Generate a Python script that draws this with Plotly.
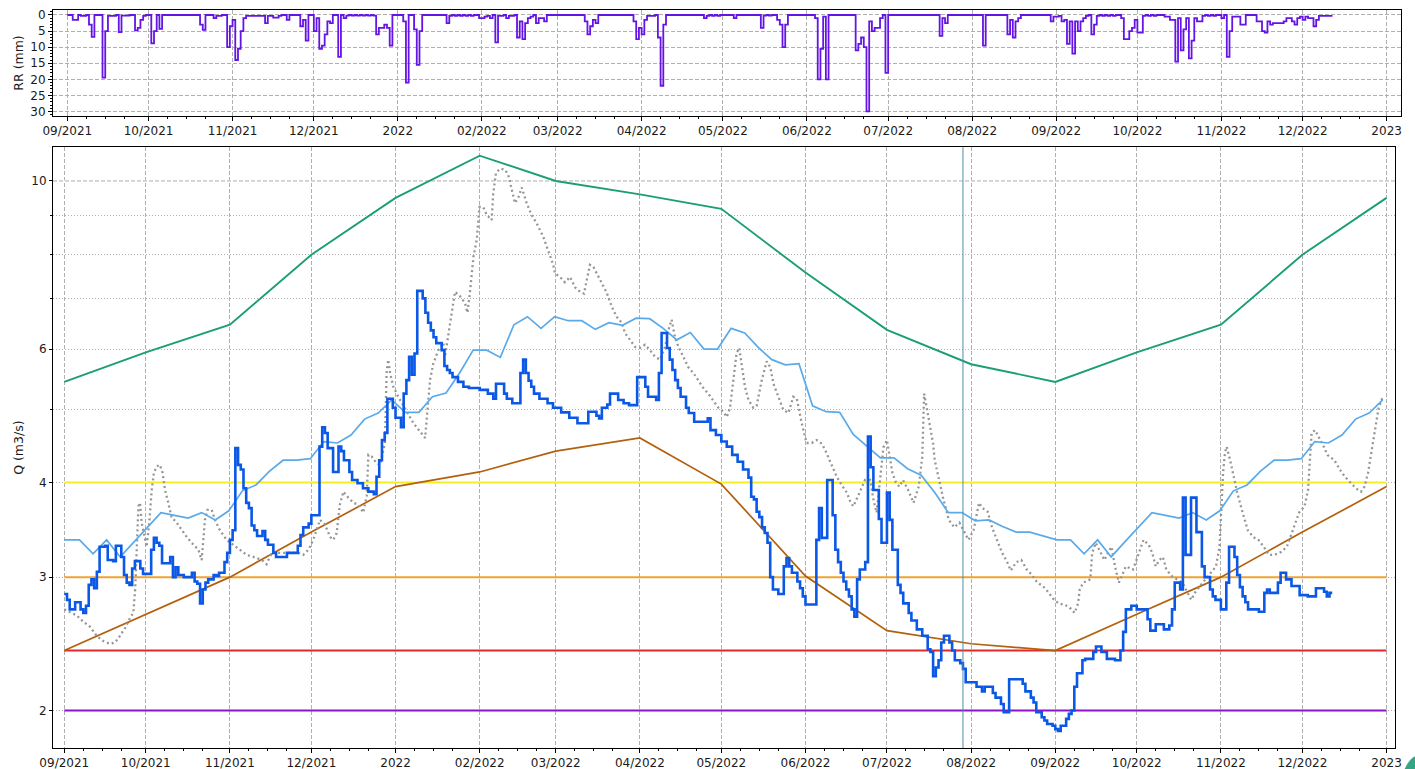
import pandas as pd
import plotly.graph_objects as go

START = pd.Timestamp("2021-09-01")

# ---------------- data ----------------
month_ticks = ["2021-09-01", "2021-10-01", "2021-11-01", "2021-12-01", "2022-01-01",
               "2022-02-01", "2022-03-01", "2022-04-01", "2022-05-01", "2022-06-01",
               "2022-07-01", "2022-08-01", "2022-09-01", "2022-10-01", "2022-11-01",
               "2022-12-01", "2023-01-01"]
month_labels = ["09/2021", "10/2021", "11/2021", "12/2021", "2022", "02/2022", "03/2022",
                "04/2022", "05/2022", "06/2022", "07/2022", "08/2022", "09/2022", "10/2022",
                "11/2022", "12/2022", "2023"]

# daily rainfall RR (mm): (day since 2021-09-01, mm); other days = 0
rr_events = [(2, 1.5), (3, 1.5), (5, 0.3), (6, 0.3), (8, 3), (9, 6.8), (13, 19.5), (14, 5),
             (15, 0.3), (16, 0.3), (17, 0.3), (19, 5.3), (20, 0.2), (21, 0.2), (22, 0.2),
             (25, 4.8), (26, 4.0), (27, 1.5), (28, 0.3), (31, 8.8), (32, 5.0), (34, 4.3),
             (49, 3.0), (50, 4.6), (54, 1.0), (55, 0.3), (56, 0.3), (59, 10), (60, 3.5),
             (61, 1.5), (62, 14), (63, 10.5), (64, 5), (65, 1), (66, 0.3), (67, 0.3),
             (68, 0.3), (69, 0.3), (70, 0.3), (71, 0.3), (72, 0.3), (73, 2.5), (74, 0.3),
             (75, 0.3), (76, 0.8), (77, 0.8), (78, 0.3), (81, 1.5), (86, 3.5), (87, 1.5),
             (88, 8), (91, 5), (92, 1), (93, 10.5), (94, 9.5), (95, 6), (96, 2), (97, 2.5),
             (100, 13), (102, 1), (103, 0.2), (105, 0.2), (107, 0.2), (109, 0.2),
             (111, 0.2), (113, 0.2), (114, 6), (115, 4), (116, 4), (117, 3), (118, 4),
             (119, 9.5), (124, 2), (125, 21), (128, 4.5), (129, 15.5), (130, 5),
             (140, 2.5), (141, 0.3), (143, 0.3), (145, 0.3), (147, 0.3), (149, 0.3),
             (152, 1), (153, 1), (154, 0.5), (155, 0.3), (156, 1), (158, 8.5), (159, 0.3),
             (160, 0.3), (162, 1), (163, 0.3), (164, 0.3), (166, 7), (167, 2), (168, 7.5),
             (169, 2.5), (170, 1), (171, 0.5), (173, 2.5), (174, 1), (175, 1), (176, 2),
             (191, 2), (192, 6), (193, 3.5), (194, 1.5), (195, 2.5), (209, 2), (210, 7.5),
             (211, 4), (212, 6), (213, 1.5), (214, 0.3), (215, 0.3), (216, 0.3), (218, 7),
             (219, 22), (220, 3), (235, 1), (236, 0.3), (238, 0.3), (240, 0.3), (246, 1),
             (256, 4), (257, 0.2), (259, 0.2), (262, 1.5), (263, 3), (264, 10), (265, 3),
             (276, 1), (277, 20), (278, 10.5), (279, 0.5), (280, 20), (291, 11), (292, 9),
             (293, 7), (294, 10), (295, 30), (296, 2), (297, 5), (298, 4), (299, 4),
             (300, 1), (302, 18), (322, 6.5), (323, 1), (324, 2.5), (338, 9.5), (347, 6),
             (348, 1.5), (349, 7), (350, 2), (351, 1), (363, 2), (364, 0.5), (365, 0.5),
             (366, 0.3), (367, 2), (368, 1.5), (369, 9), (370, 2), (371, 12), (372, 2),
             (373, 5), (374, 2), (375, 1), (376, 0.3), (378, 6), (379, 3), (380, 0.3),
             (382, 0.3), (384, 0.3), (386, 0.3), (389, 1), (390, 7.5), (391, 7.5), (392, 5),
             (393, 4), (394, 1.5), (395, 5.5), (396, 5.5), (397, 0.3), (399, 0.3),
             (401, 0.3), (405, 0.5), (406, 0.5), (407, 1.5), (408, 1.5), (409, 14.5),
             (410, 1), (411, 11), (412, 4.5), (413, 1), (414, 13.5), (415, 8), (416, 1),
             (417, 2), (418, 2), (419, 0.3), (421, 0.3), (423, 0.3), (426, 1), (428, 13),
             (429, 5), (430, 0.5), (431, 0.5), (432, 0.5), (433, 3), (434, 3), (439, 2),
             (440, 2), (441, 5), (442, 5.5), (443, 2), (444, 3), (445, 2.5), (446, 2.5),
             (447, 2.5), (448, 2.5), (449, 2), (450, 1), (451, 1), (452, 2), (453, 3),
             (454, 1), (455, 0.5), (456, 1.5), (457, 0.5), (458, 1), (459, 1), (460, 3.5),
             (461, 1.5), (462, 0.3), (463, 0.3), (464, 0.3), (465, 0.3), (466, 0.3),
             (467, 0.3)]
rr_last_day = 467

# observed discharge Q (m3/s): (day since 2021-09-01, value)
q_obs = [(0, 2.85), (1, 2.80), (2, 2.72), (4, 2.78), (6, 2.72), (7, 2.69), (8, 2.75), (9, 2.93),
         (10, 2.98), (11, 2.90), (12, 3.05), (13, 3.29), (15, 3.30), (16, 3.16), (18, 3.15),
         (19, 3.30), (21, 3.19), (22, 3.02), (23, 2.95), (24, 2.93), (25, 3.08), (26, 3.15),
         (28, 3.08), (29, 3.03), (32, 3.26), (33, 3.38), (34, 3.33), (35, 3.30), (36, 3.13),
         (39, 3.19), (40, 3.00), (41, 3.09), (42, 3.02), (44, 3.00), (47, 3.04), (48, 2.96),
         (49, 2.94), (50, 2.77), (51, 2.89), (52, 2.95), (53, 2.98), (55, 3.02), (56, 3.01),
         (57, 3.04), (59, 3.14), (60, 3.23), (61, 3.36), (62, 3.46), (63, 4.44), (64, 4.22),
         (65, 4.16), (66, 3.93), (67, 3.76), (68, 3.70), (69, 3.51), (70, 3.46), (71, 3.40),
         (73, 3.45), (74, 3.36), (75, 3.31), (77, 3.23), (78, 3.19), (82, 3.23), (86, 3.30),
         (87, 3.41), (88, 3.49), (90, 3.53), (91, 3.62), (94, 4.46), (95, 4.73), (96, 4.65),
         (97, 4.44), (99, 4.13), (101, 4.46), (102, 4.40), (103, 4.28), (105, 4.13),
         (106, 4.03), (108, 3.99), (110, 3.93), (112, 3.89), (114, 3.86), (115, 4.07),
         (116, 4.28), (117, 4.55), (118, 4.65), (119, 5.16), (121, 5.02), (122, 4.87),
         (124, 4.73), (125, 5.24), (126, 5.46), (127, 5.86), (128, 5.55), (129, 5.92),
         (130, 7.16), (132, 7.00), (133, 6.70), (134, 6.50), (135, 6.35), (136, 6.22),
         (137, 6.11), (139, 5.98), (140, 5.70), (141, 5.63), (142, 5.58), (143, 5.51),
         (145, 5.43), (147, 5.35), (149, 5.33), (153, 5.30), (156, 5.24), (158, 5.16),
         (159, 5.40), (161, 5.40), (162, 5.24), (163, 5.16), (165, 5.09), (168, 5.58),
         (169, 5.81), (170, 5.58), (171, 5.45), (172, 5.35), (173, 5.24), (175, 5.16),
         (178, 5.09), (180, 5.02), (183, 4.95), (186, 4.87), (189, 4.79), (193, 4.96),
         (196, 4.90), (197, 4.86), (198, 5.02), (200, 5.07), (201, 5.24), (204, 5.14),
         (206, 5.09), (208, 5.06), (211, 5.51), (214, 5.35), (215, 5.19), (218, 5.14),
         (219, 5.58), (220, 6.30), (222, 6.02), (223, 5.81), (224, 5.63), (225, 5.46),
         (226, 5.33), (227, 5.19), (229, 5.02), (230, 4.94), (232, 4.81), (237, 4.86),
         (238, 4.69), (240, 4.62), (242, 4.53), (244, 4.46), (246, 4.35), (248, 4.26),
         (250, 4.16), (252, 4.06), (253, 3.83), (254, 3.80), (255, 3.66), (256, 3.60),
         (257, 3.49), (258, 3.43), (259, 3.33), (260, 3.00), (261, 2.89), (263, 2.85),
         (265, 3.10), (266, 3.18), (267, 3.10), (268, 3.04), (270, 2.96), (271, 2.90),
         (272, 2.83), (273, 2.76), (277, 3.36), (278, 3.70), (279, 3.38), (281, 4.03),
         (283, 3.62), (284, 3.26), (285, 3.14), (286, 3.04), (287, 2.96), (288, 2.89),
         (289, 2.83), (290, 2.72), (291, 2.66), (292, 2.98), (293, 3.07), (295, 3.14),
         (296, 4.60), (297, 4.19), (298, 3.91), (300, 3.58), (301, 3.33), (303, 3.88),
         (304, 3.57), (305, 3.26), (307, 2.93), (308, 2.86), (309, 2.77), (311, 2.69),
         (312, 2.63), (314, 2.56), (316, 2.51), (318, 2.41), (319, 2.39), (320, 2.22),
         (321, 2.28), (322, 2.33), (323, 2.46), (324, 2.51), (326, 2.46), (327, 2.40),
         (328, 2.33), (330, 2.31), (331, 2.27), (332, 2.18), (336, 2.15), (338, 2.12),
         (339, 2.15), (342, 2.11), (343, 2.08), (345, 2.04), (346, 1.99), (348, 2.20),
         (353, 2.17), (354, 2.12), (356, 2.08), (357, 2.05), (358, 1.99), (360, 1.96),
         (361, 1.94), (362, 1.92), (364, 1.91), (365, 1.89), (366, 1.88), (367, 1.91),
         (369, 1.95), (370, 1.98), (371, 2.00), (372, 2.15), (373, 2.24), (375, 2.33),
         (376, 2.34), (379, 2.39), (380, 2.43), (382, 2.39), (384, 2.34), (387, 2.33),
         (389, 2.40), (390, 2.54), (391, 2.72), (393, 2.75), (395, 2.72), (399, 2.64),
         (400, 2.55), (402, 2.60), (405, 2.56), (407, 2.59), (408, 2.72), (409, 2.95),
         (411, 2.89), (412, 3.82), (413, 3.21), (415, 3.82), (417, 3.44), (419, 3.10),
         (420, 3.00), (422, 2.89), (423, 2.83), (424, 2.80), (426, 2.72), (428, 2.95),
         (429, 3.29), (431, 3.19), (432, 3.02), (433, 2.91), (434, 2.83), (435, 2.78),
         (436, 2.72), (440, 2.70), (442, 2.86), (443, 2.89), (444, 2.86), (447, 2.95),
         (448, 3.04), (450, 2.98), (452, 2.92), (455, 2.84), (458, 2.83), (461, 2.90),
         (464, 2.87), (465, 2.83), (466, 2.86), (467, 2.86)]

# previous-year discharge (grey dotted): (day since 2021-09-01, value)
q_prev = [(0, 2.72), (2.1, 2.70), (4.6, 2.67), (7, 2.62), (9.5, 2.58), (11.9, 2.51), (14.4, 2.47),
          (16.8, 2.45), (18.7, 2.46), (20.5, 2.51), (22.4, 2.57), (24.2, 2.65), (25.4, 2.69),
          (26.1, 2.89), (26.7, 3.36), (27.3, 3.72), (27.9, 3.76), (28.5, 3.54), (30.3, 3.29),
          (31.3, 3.54), (32.2, 3.91), (33, 4.12), (34, 4.20), (35.2, 4.22), (36.2, 4.12),
          (37.1, 3.91), (38.3, 3.76), (39.5, 3.60), (41.4, 3.54), (43.2, 3.46), (45.1, 3.39),
          (46.9, 3.33), (49.4, 3.26), (50.6, 3.16), (51.2, 3.39), (51.8, 3.57), (52.7, 3.68),
          (54.3, 3.68), (55.5, 3.57), (57.3, 3.46), (59.8, 3.36), (62.3, 3.31), (64.7, 3.26),
          (67.2, 3.21), (70.9, 3.18), (73.3, 3.15), (74.5, 3.12), (76.4, 3.23), (86.2, 3.23),
          (88, 3.21), (89.9, 3.26), (91.7, 3.36), (92.9, 3.46), (94.2, 3.57), (96, 3.52),
          (97.9, 3.39), (99.1, 3.36), (100.3, 3.43), (101.5, 3.74), (102.8, 3.89),
          (104.6, 3.82), (106.5, 3.76), (108.3, 3.74), (110.1, 3.65), (111.4, 3.84),
          (112, 4.35), (113.2, 4.33), (115, 4.24), (116.3, 4.22), (117.3, 4.38), (118.1, 4.51),
          (118.7, 5.58), (119.3, 5.81), (120, 5.58), (121.2, 5.35), (123, 5.19), (124.3, 5.09),
          (125.5, 4.99), (127.3, 4.88), (128.6, 4.79), (129.8, 4.73), (131.6, 4.65),
          (132.9, 4.58), (134.7, 5.46), (135.9, 5.74), (137.8, 5.98), (139.6, 6.11),
          (140.2, 5.86), (142.7, 6.69), (143.9, 7.14), (145.7, 7.05), (147.6, 6.90),
          (148.5, 6.70), (149.4, 7.12), (150.7, 7.94), (151.9, 8.36), (152.9, 9.24),
          (154.3, 9.24), (155.6, 9.02), (157.4, 8.88), (158, 9.64), (159, 10.25),
          (160.5, 10.38), (162.3, 10.35), (163.5, 10.19), (164.8, 9.73), (166, 9.35),
          (167.2, 9.50), (168.5, 9.80), (170.3, 9.35), (172.1, 9.02), (174, 8.79),
          (176.4, 8.44), (177.7, 8.19), (178.9, 7.99), (180.1, 7.75), (180.7, 7.55),
          (182.6, 7.47), (184.4, 7.35), (186.3, 7.47), (188.1, 7.24), (190, 7.14),
          (191.4, 7.10), (192.4, 7.40), (193.6, 7.75), (194.9, 7.70), (196.1, 7.55),
          (197.9, 7.32), (199.8, 7.12), (201.6, 6.83), (203.4, 6.62), (205.3, 6.50),
          (206.5, 6.30), (208.4, 6.17), (210.2, 6.04), (212, 6.02), (213.9, 6.08),
          (215.7, 5.98), (217.6, 5.86), (219.4, 5.81), (221.3, 6.04), (222.8, 6.41),
          (223.7, 6.56), (224.9, 6.22), (226.2, 6.04), (228, 5.86), (229.8, 5.68),
          (231.7, 5.58), (233.5, 5.46), (235.4, 5.33), (237.2, 5.24), (239.1, 5.12),
          (240.9, 5.02), (242.7, 4.96), (244, 4.88), (245.2, 5.02), (246.4, 5.46),
          (247.6, 5.92), (248.6, 6.02), (249.5, 5.68), (250.7, 5.35), (252, 5.14),
          (253.8, 5.02), (255, 5.05), (256.9, 5.46), (258.7, 5.78), (260, 5.68),
          (261.2, 5.40), (263, 5.19), (264.8, 4.99), (266.7, 4.94), (268.5, 5.19),
          (269.8, 5.16), (271.6, 4.79), (273.4, 4.51), (275.3, 4.51), (277.1, 4.55),
          (279, 4.50), (280.2, 4.42), (281.4, 4.32), (282.6, 4.20), (284.5, 4.07),
          (286.3, 3.97), (288.2, 3.88), (289.4, 3.78), (290.6, 3.72), (291.8, 3.80),
          (293.7, 3.95), (294.9, 4.03), (296.8, 4.03), (298, 3.80), (299.2, 3.65),
          (300.4, 4.00), (301.7, 4.45), (303, 4.55), (305, 4.12), (306.3, 4.00),
          (307.6, 3.95), (308.9, 4.03), (310.8, 3.91), (312.8, 3.76), (314.7, 3.95),
          (316, 4.32), (316.7, 5.24), (317.3, 5.10), (318.6, 4.80), (320, 4.50),
          (320.6, 4.28), (321.9, 4.07), (323.8, 3.80), (325.8, 3.57), (327.8, 3.49),
          (329.7, 3.54), (331.7, 3.43), (333, 3.36), (334.9, 3.46), (336.9, 3.76),
          (338.2, 3.70), (340.1, 3.66), (341.7, 3.49), (343.4, 3.36), (345.4, 3.23),
          (347.3, 3.14), (348.6, 3.06), (350.6, 3.14), (352.5, 3.16), (354.5, 3.07),
          (356.4, 3.02), (358.4, 2.95), (360.4, 2.92), (362.3, 2.87), (364.2, 2.81),
          (366.2, 2.77), (368.2, 2.76), (370.1, 2.74), (372.1, 2.69), (373.4, 2.77),
          (374, 2.89), (375.3, 2.95), (377.9, 2.98), (378.6, 3.23), (379.9, 3.33),
          (381.2, 3.26), (383.1, 3.16), (384.4, 3.23), (385.7, 3.29), (387, 3.10),
          (388.4, 2.95), (391, 3.10), (393.6, 3.07), (394.9, 3.16), (396.2, 3.26),
          (397.5, 3.36), (399.4, 3.31), (400.7, 3.23), (402, 3.10), (403.3, 3.16),
          (404.6, 3.19), (405.9, 3.07), (407.9, 3.01), (409.9, 2.98), (411.8, 2.95),
          (415.1, 2.80), (416.4, 2.86), (418.3, 2.92), (420.3, 2.98), (422.2, 3.04),
          (424.2, 3.10), (425.5, 3.29), (426.2, 3.72), (426.8, 4.12), (427.5, 4.38),
          (428.1, 4.46), (429.4, 4.28), (430.7, 4.07), (432, 3.88), (434, 3.65),
          (435.9, 3.46), (437.9, 3.39), (439.8, 3.36), (441.8, 3.29), (443.7, 3.21),
          (445.7, 3.21), (448.3, 3.24), (450.3, 3.29), (451.6, 3.39), (452.9, 3.49),
          (454.8, 3.65), (456.8, 3.72), (458.1, 3.91), (459.4, 4.65), (460.7, 4.69),
          (462.6, 4.55), (463.9, 4.46), (465.2, 4.35), (467.8, 4.28), (469.8, 4.16),
          (471.7, 4.07), (473.7, 4.00), (475.7, 3.93), (477.6, 3.89), (478.9, 3.95),
          (480.2, 4.12), (481.5, 4.42), (482.8, 4.69), (484.1, 5.02), (485.4, 5.16),
          (486.1, 5.20)]

# mean discharge (light blue), every 5 days: (day since 2021-09-01, value)
q_mean = [(0, 3.36), (5.6, 3.36), (10.6, 3.22), (15.6, 3.36), (20.6, 3.19), (25.6, 3.34),
          (30.6, 3.49), (35.6, 3.65), (40.6, 3.62), (45.6, 3.59), (50.6, 3.65), (55.6, 3.57),
          (60.6, 3.67), (65.6, 3.90), (70.6, 3.97), (75.6, 4.14), (80.6, 4.28), (85.6, 4.28),
          (90.6, 4.30), (95.6, 4.53), (100.6, 4.51), (105.6, 4.62), (110.6, 4.85),
          (115.6, 4.94), (120.6, 5.14), (125.6, 4.95), (130.6, 4.95), (135.6, 5.19),
          (140.6, 5.25), (145.6, 5.58), (150.6, 5.98), (155.6, 5.98), (160.6, 5.85),
          (165.6, 6.46), (170.6, 6.62), (175.6, 6.39), (180.6, 6.62), (185.6, 6.54),
          (190.6, 6.54), (195.6, 6.37), (200.6, 6.50), (205.6, 6.45), (210.6, 6.59),
          (215.6, 6.58), (220.6, 6.39), (225.6, 6.17), (230.6, 6.31), (235.6, 6.00),
          (240.6, 6.00), (245.6, 6.39), (250.6, 6.30), (255.6, 6.03), (260.6, 5.81),
          (265.6, 5.72), (270.6, 5.74), (275.6, 5.05), (280.6, 4.96), (285.6, 4.95),
          (290.6, 4.63), (295.6, 4.47), (300.6, 4.31), (305.6, 4.31), (310.6, 4.17),
          (315.6, 4.09), (320.6, 3.88), (325.6, 3.65), (330.6, 3.65), (335.6, 3.56),
          (340.6, 3.57), (345.6, 3.50), (350.6, 3.44), (355.6, 3.44), (360.6, 3.40),
          (365.6, 3.36), (370.6, 3.36), (375.6, 3.22), (380.6, 3.36), (385.6, 3.19),
          (390.6, 3.34), (395.6, 3.49), (400.6, 3.65), (405.6, 3.62), (410.6, 3.59),
          (415.6, 3.65), (420.6, 3.57), (425.6, 3.67), (430.6, 3.90), (435.6, 3.97),
          (440.6, 4.14), (445.6, 4.28), (450.6, 4.28), (455.6, 4.30), (460.6, 4.53),
          (465.6, 4.51), (470.6, 4.62), (475.6, 4.85), (480.6, 4.94), (485.6, 5.14)]

# monthly curves (values at the first of each month in month_ticks)
q_high_monthly = [5.43, 5.94, 6.46, 7.99, 9.50, 10.80, 10.00, 9.60, 9.19, 7.57, 6.36,
                  5.73, 5.43, 5.94, 6.46, 7.99, 9.50]
q_low_monthly = [2.40, 2.68, 3.00, 3.44, 3.95, 4.13, 4.40, 4.58, 3.98, 3.01, 2.55,
                 2.45, 2.40, 2.68, 3.00, 3.44, 3.95]

# threshold levels (m3/s)
threshold_values = [4.0, 3.0, 2.4, 2.0]
threshold_colors = ["#f4ee22", "#f0a232", "#e3282b", "#8c14c8"]

today_marker = "2022-07-29"

# ---------------- helpers ----------------
def to_dates(days):
    return [START + pd.Timedelta(days=float(d)) for d in days]

rr_daily = [0.0] * (rr_last_day + 1)
for d, v in rr_events:
    rr_daily[d] = v
rr_dates = to_dates(range(rr_last_day + 1))

FONT = "DejaVu Sans"
GRID = "#b0b0b0"
DASH = "4px,2px"
DOT = "1px,2px"

# axis ranges (slightly wider than the ticks, as in the original)
top_x_range = [START - pd.Timedelta(days=5.28), START + pd.Timedelta(days=492.3)]
bot_x_range = [START - pd.Timedelta(days=4.16), START + pd.Timedelta(days=490.1)]

minor_x = []
for m in pd.date_range("2021-09-01", "2022-12-01", freq="MS"):
    for day in (8, 15, 22):
        minor_x.append(m + pd.Timedelta(days=day - 1))

fig = go.Figure()

# ---- top: rainfall (step line) ----
fig.add_trace(go.Scatter(
    x=rr_dates, y=rr_daily, xaxis="x", yaxis="y", mode="lines",
    line=dict(color="#6414e4", width=1.8, shape="hv"), showlegend=False))

# ---- bottom: discharge ----
# dashed major gridline at 10 (over the dotted one)
fig.add_trace(go.Scatter(x=bot_x_range, y=[10, 10], xaxis="x2", yaxis="y2", mode="lines",
                         line=dict(color="white", width=1.5), showlegend=False))
fig.add_trace(go.Scatter(x=bot_x_range, y=[10, 10], xaxis="x2", yaxis="y2", mode="lines",
                         line=dict(color=GRID, width=1, dash=DASH), showlegend=False))

for val, col in zip(threshold_values, threshold_colors):
    fig.add_trace(go.Scatter(x=[month_ticks[0], month_ticks[-1]], y=[val, val],
                             xaxis="x2", yaxis="y2", mode="lines",
                             line=dict(color=col, width=2), showlegend=False))

fig.add_trace(go.Scatter(x=month_ticks, y=q_high_monthly, xaxis="x2", yaxis="y2",
                         mode="lines", line=dict(color="#1b9e77", width=1.9),
                         showlegend=False))
fig.add_trace(go.Scatter(x=month_ticks, y=q_low_monthly, xaxis="x2", yaxis="y2",
                         mode="lines", line=dict(color="#b3600c", width=1.7),
                         showlegend=False))
fig.add_trace(go.Scatter(x=to_dates([d for d, _ in q_prev]), y=[v for _, v in q_prev],
                         xaxis="x2", yaxis="y2", mode="lines",
                         line=dict(color="#959595", width=2.3, dash="2px,3px"),
                         showlegend=False))
fig.add_trace(go.Scatter(x=to_dates([d for d, _ in q_mean]), y=[v for _, v in q_mean],
                         xaxis="x2", yaxis="y2", mode="lines",
                         line=dict(color="#5aaaea", width=1.7), showlegend=False))
fig.add_trace(go.Scatter(x=to_dates([d for d, _ in q_obs]), y=[v for _, v in q_obs],
                         xaxis="x2", yaxis="y2", mode="lines",
                         line=dict(color="#0b58e6", width=2.6, shape="hv"),
                         showlegend=False))

tickfont = dict(family=FONT, size=12, color="#1a1a1a")
common_x = dict(tickmode="array", tickvals=month_ticks, ticktext=month_labels,
                ticks="outside", ticklen=4, tickcolor="black", tickfont=tickfont,
                showline=True, linecolor="black", linewidth=1, mirror=True,
                showgrid=True, gridcolor=GRID, griddash=DASH, gridwidth=1,
                zeroline=False, automargin=False,
                minor=dict(tickmode="array", tickvals=minor_x, ticks="outside",
                           ticklen=2, tickcolor="black", showgrid=False))

fig.update_layout(
    template="none",
    width=1415, height=769,
    margin=dict(l=53, r=14, t=10, b=21, pad=0),
    paper_bgcolor="white", plot_bgcolor="white",
    font=dict(family=FONT, size=12, color="#1a1a1a"),
    hovermode=False, showlegend=False,
    xaxis=dict(domain=[0, 1], anchor="y", range=top_x_range, type="date", **common_x),
    yaxis=dict(domain=[0.8564, 1.0], anchor="x", range=[31.4, -1.55],
               tickmode="array", tickvals=[0, 5, 10, 15, 20, 25, 30],
               ticks="outside", ticklen=4, tickcolor="black", tickfont=tickfont,
               showline=True, linecolor="black", linewidth=1, mirror=True,
               showgrid=True, gridcolor=GRID, griddash=DASH, zeroline=False,
               automargin=False,
               minor=dict(dtick=1, ticks="outside", ticklen=2, tickcolor="black",
                          showgrid=False),
               title=dict(text="RR (mm)", font=dict(family=FONT, size=12.5, color="#1a1a1a"),
                          standoff=3)),
    xaxis2=dict(domain=[0, 0.9955], anchor="y2", range=bot_x_range, type="date", **common_x),
    yaxis2=dict(domain=[0, 0.814], anchor="x2", type="log", range=[0.2516, 1.0445],
                tickmode="array", tickvals=[2, 3, 4, 6, 10], ticktext=["2", "3", "4", "6", "10"],
                ticks="outside", ticklen=3, tickcolor="black", tickfont=tickfont,
                showline=True, linecolor="black", linewidth=1, mirror=True,
                showgrid=True, gridcolor=GRID, griddash=DOT, zeroline=False,
                automargin=False,
                minor=dict(tickmode="array", tickvals=[5, 7, 8, 9], ticks="outside",
                           ticklen=2, tickcolor="black", showgrid=True,
                           gridcolor=GRID, griddash=DOT),
                title=dict(text="Q (m3/s)", font=dict(family=FONT, size=12.5, color="#1a1a1a"),
                           standoff=4)),
)

# vertical marker line in the discharge panel
fig.add_shape(type="line", xref="x2", yref="y2 domain", x0=today_marker, x1=today_marker,
              y0=0, y1=1, line=dict(color="#4b8fa6", width=1))

# small decorative corner element seen at the bottom-right of the original
fig.add_shape(type="path", xref="paper", yref="paper",
              path="M 1.0027,-0.0285 Q 1.0060,-0.0150 1.0104,-0.0110 L 1.0104,-0.0285 Z",
              fillcolor="#36a585", line=dict(width=0))

# remove the default page margin so the figure fills the window exactly
fig.write_html("out.html",
               config={"displayModeBar": False},
               post_script="document.body.style.margin='0px';"
                           "document.body.style.overflow='hidden';")
